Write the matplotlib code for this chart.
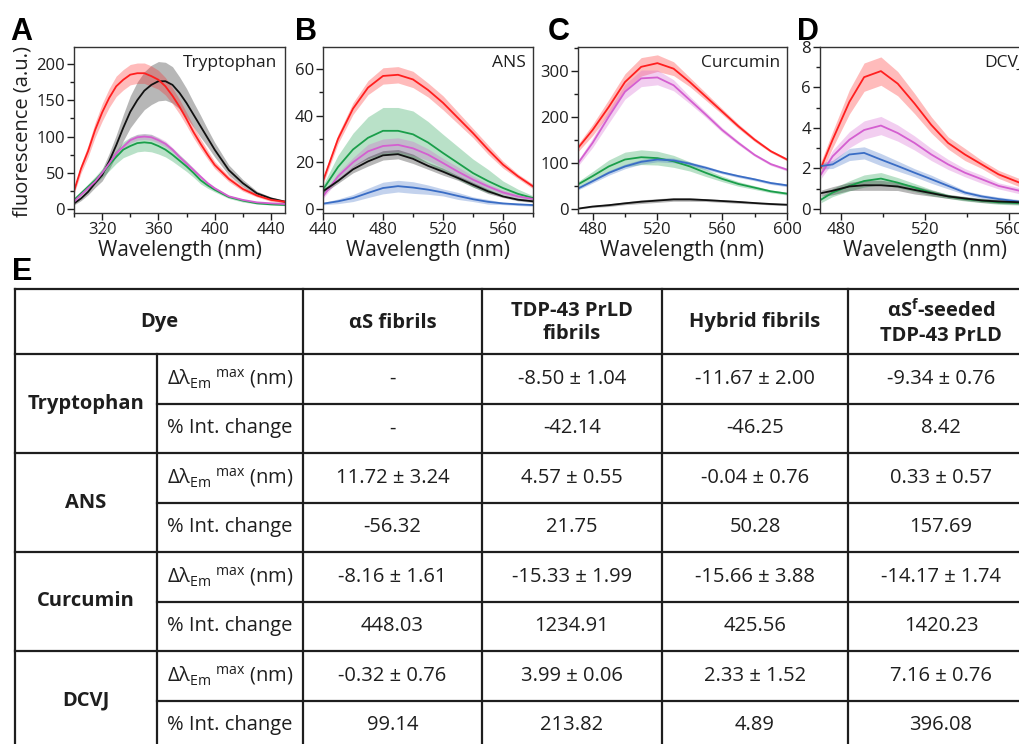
import matplotlib
matplotlib.use('Agg')
import matplotlib.pyplot as plt
from matplotlib.ticker import MultipleLocator

plt.rcParams['font.family'] = ['Open Sans', 'DejaVu Sans']
plt.rcParams['mathtext.fontset'] = 'custom'
plt.rcParams['mathtext.rm'] = 'Open Sans'
plt.rcParams['mathtext.bf'] = 'Open Sans:bold'
plt.rcParams['mathtext.it'] = 'Open Sans:italic'

# ---------------- spectra ----------------
# colours: red = aS-seeded TDP-43 PrLD, magenta = TDP-43 PrLD fibrils,
# green = hybrid fibrils, blue = aS fibrils, black = control
TRP_WL = [300, 305, 310, 315, 320, 325, 330, 335, 340, 345, 350, 355, 360,
          365, 370, 375, 380, 385, 390, 395, 400, 410, 420, 430, 440, 450]
TRP_SEEDED = [25, 56, 80, 109, 133, 153, 169, 178, 185, 187, 187, 183, 178,
              169, 156, 141, 124, 106, 90, 75, 61, 42, 28, 19, 13, 10.5]
TRP_SEEDED_ERR = [4, 6, 8, 10, 12, 13, 14, 14, 14, 14, 14, 14, 13,
                  12, 11, 10, 9, 8, 7, 6, 5, 4, 3, 2, 2, 2]
TRP_CONTROL = [8, 15, 24, 36, 47, 66, 88, 112, 134, 150, 163, 171, 176,
               176, 171, 160, 146, 130, 114, 98, 82, 54, 36, 22, 15, 10.5]
TRP_CONTROL_ERR = [2, 3, 4, 6, 8, 11, 14, 18, 22, 25, 26, 27, 27,
                   26, 25, 22, 20, 17, 15, 12, 10, 7, 5, 3, 2, 2]
TRP_TDP = [10.5, 20, 29, 38, 50, 63, 77, 86, 95, 99, 100, 99, 95,
           90, 82, 72, 63, 54, 45, 36, 29, 18, 13, 9.6, 8.3, 7.3]
TRP_TDP_ERR = [1, 1, 2, 2, 3, 3, 3, 4, 4, 4, 4, 4, 4,
               4, 3, 3, 3, 3, 2, 2, 2, 1, 1, 1, 1, 1]
TRP_HYBRID = [13, 22, 31, 40, 50, 61, 72, 82, 87, 91, 92, 91, 87,
              82, 75, 67, 59, 50, 40, 33, 27, 17, 12, 8.3, 6.9, 6]
TRP_HYBRID_ERR = [2, 3, 4, 5, 6, 8, 9, 11, 12, 12, 12, 12, 11,
                  10, 9, 8, 7, 6, 5, 4, 3, 2, 2, 1, 1, 1]

ANS_WL = [440, 450, 460, 470, 480, 490, 500, 510, 520, 530, 540, 550, 560, 570, 580]
ANS_SEEDED = [12, 30, 43, 52, 57, 57.5, 55.5, 51, 45.5, 39, 32.5, 25.5, 19, 14, 9.7]
ANS_SEEDED_ERR = [1.5, 2, 2.5, 3, 3.5, 3.5, 3.5, 3, 3, 2.5, 2, 2, 1.5, 1, 1]
ANS_HYBRID = [8.3, 18, 25.5, 30.5, 33.5, 33.5, 32, 28.5, 24, 19.7, 15.4, 12, 9, 6.5, 4.7]
ANS_HYBRID_ERR = [2, 5, 7, 9, 10, 10, 10, 9, 8, 7, 6, 5, 3, 2, 1]
ANS_TDP = [5.4, 14, 20, 24.7, 27, 27.5, 26, 23.3, 19.7, 16, 12.6, 9.7, 7.1, 5.4, 4.3]
ANS_TDP_ERR = [1, 1.5, 2, 3, 3, 3, 3, 2.5, 2, 2, 1.5, 1, 1, 1, 1]
ANS_CONTROL = [7.6, 12, 17, 20.4, 23, 23.5, 21.5, 18.5, 16, 13.3, 10.4, 7.6, 5.4, 4, 3.3]
ANS_CONTROL_ERR = [1, 1, 1.5, 2, 2, 2, 2, 1.5, 1.5, 1, 1, 1, 0.5, 0.5, 0.5]
ANS_ASYN = [2.3, 3.3, 4.7, 6.9, 9, 9.8, 9.2, 8.3, 7.1, 5.6, 4.2, 3.1, 2.4, 2, 1.7]
ANS_ASYN_ERR = [0.5, 1, 1.5, 2, 2.5, 2.5, 2.5, 2, 1.5, 1.5, 1, 1, 0.5, 0.5, 0.5]

CUR_WL = [471, 480, 490, 500, 510, 520, 530, 540, 550, 560, 570, 580, 590, 600]
CUR_SEEDED = [133, 172, 222, 276, 309, 317, 305, 276, 244, 212, 180, 151, 126, 108]
CUR_SEEDED_ERR = [8, 12, 16, 18, 20, 18, 15, 10, 8, 6, 5, 4, 3, 3]
CUR_TDP = [100, 144, 201, 255, 284, 286, 269, 237, 205, 172, 144, 118, 98, 86]
CUR_TDP_ERR = [6, 10, 14, 16, 18, 16, 12, 8, 6, 5, 4, 3, 3, 3]
CUR_HYBRID = [54, 72, 93, 108, 113, 111, 104, 93, 79, 66, 55, 47, 39, 34]
CUR_HYBRID_ERR = [6, 10, 14, 16, 16, 15, 13, 10, 8, 6, 5, 4, 3, 3]
CUR_ASYN = [45, 61, 79, 93, 103, 108, 106, 99, 90, 80, 72, 65, 57, 52]
CUR_ASYN_ERR = [3, 4, 5, 5, 5, 5, 5, 4, 4, 3, 3, 3, 3, 3]
CUR_CONTROL = [1.5, 6, 9, 13, 16.5, 19, 21.5, 21.5, 20, 18, 16, 13.6, 11.5, 10]
CUR_CONTROL_ERR = [1, 2, 3, 3, 4, 4, 4, 4, 3, 3, 3, 2, 2, 2]

DCVJ_WL = [470.5, 476, 484, 491, 499, 507, 515, 523, 531, 539, 547, 555, 565]
DCVJ_SEEDED = [2.04, 3.42, 5.29, 6.51, 6.81, 6.19, 5.21, 4.15, 3.26, 2.69, 2.2, 1.71, 1.3]
DCVJ_SEEDED_ERR = [0.3, 0.4, 0.6, 0.7, 0.7, 0.6, 0.5, 0.4, 0.3, 0.3, 0.2, 0.2, 0.2]
DCVJ_TDP = [1.71, 2.6, 3.42, 3.9, 4.12, 3.75, 3.26, 2.69, 2.2, 1.79, 1.47, 1.14, 0.9]
DCVJ_TDP_ERR = [0.2, 0.3, 0.4, 0.45, 0.45, 0.4, 0.35, 0.3, 0.25, 0.2, 0.2, 0.15, 0.15]
DCVJ_ASYN = [2.12, 2.2, 2.69, 2.77, 2.44, 2.12, 1.79, 1.47, 1.14, 0.81, 0.62, 0.49, 0.36]
DCVJ_ASYN_ERR = [0.15, 0.2, 0.3, 0.3, 0.3, 0.25, 0.2, 0.2, 0.15, 0.1, 0.1, 0.1, 0.1]
DCVJ_HYBRID = [0.46, 0.81, 1.14, 1.38, 1.5, 1.3, 1.06, 0.81, 0.62, 0.49, 0.41, 0.33, 0.29]
DCVJ_HYBRID_ERR = [0.15, 0.2, 0.25, 0.3, 0.3, 0.25, 0.2, 0.15, 0.1, 0.1, 0.1, 0.1, 0.1]
DCVJ_CONTROL = [0.78, 0.9, 1.11, 1.17, 1.17, 1.11, 0.94, 0.78, 0.62, 0.52, 0.42, 0.37, 0.33]
DCVJ_CONTROL_ERR = [0.15, 0.2, 0.2, 0.25, 0.25, 0.2, 0.2, 0.15, 0.1, 0.1, 0.1, 0.1, 0.1]

# ---------------- table values ----------------
COLUMNS = ['αS fibrils', 'TDP-43 PrLD\nfibrils', 'Hybrid fibrils',
           r'αS$^{\mathbf{f}}$-seeded' + '\nTDP-43 PrLD']
DYES = ['Tryptophan', 'ANS', 'Curcumin', 'DCVJ']
PARAMS = [r'$\mathrm{Δλ}_{\mathrm{Em}}{}^{\ \mathrm{max}}$ (nm)', '% Int. change']
SHIFT = [['-', '-8.50 ± 1.04', '-11.67 ± 2.00', '-9.34 ± 0.76'],
         ['11.72 ± 3.24', '4.57 ± 0.55', '-0.04 ± 0.76', '0.33 ± 0.57'],
         ['-8.16 ± 1.61', '-15.33 ± 1.99', '-15.66 ± 3.88', '-14.17 ± 1.74'],
         ['-0.32 ± 0.76', '3.99 ± 0.06', '2.33 ± 1.52', '7.16 ± 0.76']]
INT_CHANGE = [['-', '-42.14', '-46.25', '8.42'],
              ['-56.32', '21.75', '50.28', '157.69'],
              ['448.03', '1234.91', '425.56', '1420.23'],
              ['99.14', '213.82', '4.89', '396.08']]

RED = '#ff1f1f'
MAG = '#d45fd0'
GRN = '#1a9e4a'
BLU = '#3a6dc5'
BLK = '#111111'
INK = '#1e1e1e'

W, H = 1019.0, 744.0
fig = plt.figure(figsize=(W / 100, H / 100), dpi=100)
fig.set_facecolor('white')


def px_axes(l, t, r, b):
    return fig.add_axes([l / W, 1 - b / H, (r - l) / W, (b - t) / H])


def spectrum(ax, wl, series):
    for vals, err, c in series:
        lo = [v - e for v, e in zip(vals, err)]
        hi = [v + e for v, e in zip(vals, err)]
        ax.fill_between(wl, lo, hi, color=c, alpha=0.3, lw=0)
    for vals, err, c in series:
        ax.plot(wl, vals, color=c, lw=1.3)


def style(ax, xlim, ylim, xmaj, xmin, ymaj, ymin, name):
    ax.set_xlim(xlim)
    ax.set_ylim(ylim)
    ax.xaxis.set_major_locator(MultipleLocator(xmaj))
    ax.xaxis.set_minor_locator(MultipleLocator(xmin))
    ax.yaxis.set_major_locator(MultipleLocator(ymaj))
    ax.yaxis.set_minor_locator(MultipleLocator(ymin))
    ax.tick_params('both', which='major', direction='out', length=5, width=1,
                   labelsize=12, pad=1.5, colors=INK)
    ax.tick_params('both', which='minor', direction='out', length=3, width=1,
                   colors=INK)
    for s in ax.spines.values():
        s.set_linewidth(1)
        s.set_color('#333333')
    ax.text(0.5, -0.225, 'Wavelength (nm)', transform=ax.transAxes,
            ha='center', va='center', fontsize=15, color=INK)
    ax.text(0.965, 0.95, name, transform=ax.transAxes, ha='right', va='top',
            fontsize=12.5, color=INK)


axA = px_axes(74, 47, 285, 213)
spectrum(axA, TRP_WL, [(TRP_CONTROL, TRP_CONTROL_ERR, BLK),
                       (TRP_SEEDED, TRP_SEEDED_ERR, RED),
                       (TRP_HYBRID, TRP_HYBRID_ERR, GRN),
                       (TRP_TDP, TRP_TDP_ERR, MAG)])
style(axA, (300, 450), (-5, 223), 40, 20, 50, 25, 'Tryptophan')
axA.set_xticks([320, 360, 400, 440])
axA.text(-0.242, 0.49, 'fluorescence (a.u.)', transform=axA.transAxes,
         rotation=90, ha='center', va='center', fontsize=14.5, color=INK)

axB = px_axes(323, 47, 533, 213)
spectrum(axB, ANS_WL, [(ANS_HYBRID, ANS_HYBRID_ERR, GRN),
                       (ANS_SEEDED, ANS_SEEDED_ERR, RED),
                       (ANS_TDP, ANS_TDP_ERR, MAG),
                       (ANS_CONTROL, ANS_CONTROL_ERR, BLK),
                       (ANS_ASYN, ANS_ASYN_ERR, BLU)])
style(axB, (440, 580), (-1.7, 69.4), 40, 20, 20, 10, 'ANS')
fig.canvas.draw()
axB.get_xticklabels()[0].set_ha('left')

axC = px_axes(578, 47, 787, 213)
spectrum(axC, CUR_WL, [(CUR_SEEDED, CUR_SEEDED_ERR, RED),
                       (CUR_TDP, CUR_TDP_ERR, MAG),
                       (CUR_HYBRID, CUR_HYBRID_ERR, GRN),
                       (CUR_ASYN, CUR_ASYN_ERR, BLU),
                       (CUR_CONTROL, CUR_CONTROL_ERR, BLK)])
style(axC, (471, 600), (-8, 352), 40, 20, 100, 50, 'Curcumin')

axD = px_axes(820, 47, 1030, 213)
spectrum(axD, DCVJ_WL, [(DCVJ_SEEDED, DCVJ_SEEDED_ERR, RED),
                        (DCVJ_TDP, DCVJ_TDP_ERR, MAG),
                        (DCVJ_ASYN, DCVJ_ASYN_ERR, BLU),
                        (DCVJ_HYBRID, DCVJ_HYBRID_ERR, GRN),
                        (DCVJ_CONTROL, DCVJ_CONTROL_ERR, BLK)])
style(axD, (470, 570), (-0.2, 8.0), 40, 20, 2, 1, 'DCVJ')
axD.set_xticks([480, 520, 560])
axD.xaxis.set_minor_locator(MultipleLocator(20))
fig.canvas.draw()
axD.get_yticklabels()[-1].set_va('top')

# panel letters
for x, y, lab in [(10, 40, 'A'), (295, 40, 'B'), (548, 40, 'C'),
                  (797, 40, 'D'), (12, 280, 'E')]:
    fig.text(x / W, 1 - y / H, lab, fontsize=22, fontweight='bold',
             family='Liberation Sans', va='baseline', ha='left')

# ---------------- table E ----------------
axT = fig.add_axes([0, 0, 1, 1], zorder=-1)
axT.set_xlim(0, W)
axT.set_ylim(H, 0)
axT.axis('off')

col_edges = [15, 157, 303, 482, 662, 848, 1034]
row_top = 289
head_bot = 354
row_h = 49.5
n_rows = 2 * len(DYES)
row_edges = [head_bot + i * row_h for i in range(n_rows + 1)]
lw_t = 1.6
right = col_edges[-1]
bottom = row_edges[-1]

axT.plot([col_edges[0], right], [row_top, row_top], color=INK, lw=lw_t)
axT.plot([col_edges[0], col_edges[0]], [row_top, bottom], color=INK, lw=lw_t)
axT.plot([col_edges[1], col_edges[1]], [head_bot, bottom], color=INK, lw=lw_t)
for x in col_edges[2:]:
    axT.plot([x, x], [row_top, bottom], color=INK, lw=lw_t)
for i, y in enumerate(row_edges):
    x0 = col_edges[0] if i % 2 == 0 else col_edges[1]
    axT.plot([x0, right], [y, y], color=INK, lw=lw_t)

fs_t = 14.5
axT.text((col_edges[0] + col_edges[2]) / 2, (row_top + head_bot) / 2, 'Dye',
         ha='center', va='center', fontsize=fs_t, fontweight='bold', color=INK)
for j, name in enumerate(COLUMNS):
    cx = (col_edges[j + 2] + col_edges[j + 3]) / 2
    axT.text(cx, (row_top + head_bot) / 2 + 1, name, ha='center', va='center',
             fontsize=fs_t, fontweight='bold', color=INK, linespacing=1.25)

for d, dye in enumerate(DYES):
    y0 = row_edges[2 * d]
    axT.text((col_edges[0] + col_edges[1]) / 2, y0 + row_h, dye,
             ha='center', va='center', fontsize=fs_t, fontweight='bold',
             color=INK)
    for k, (pname, vals) in enumerate(zip(PARAMS, [SHIFT[d], INT_CHANGE[d]])):
        cy = y0 + (k + 0.5) * row_h
        axT.text((col_edges[1] + col_edges[2]) / 2, cy, pname, ha='center',
                 va='center', fontsize=fs_t, color=INK)
        for j, v in enumerate(vals):
            cx = (col_edges[j + 2] + col_edges[j + 3]) / 2
            axT.text(cx, cy, v, ha='center', va='center', fontsize=fs_t,
                     color=INK)

fig.savefig('out.png', dpi=100, facecolor='white')
